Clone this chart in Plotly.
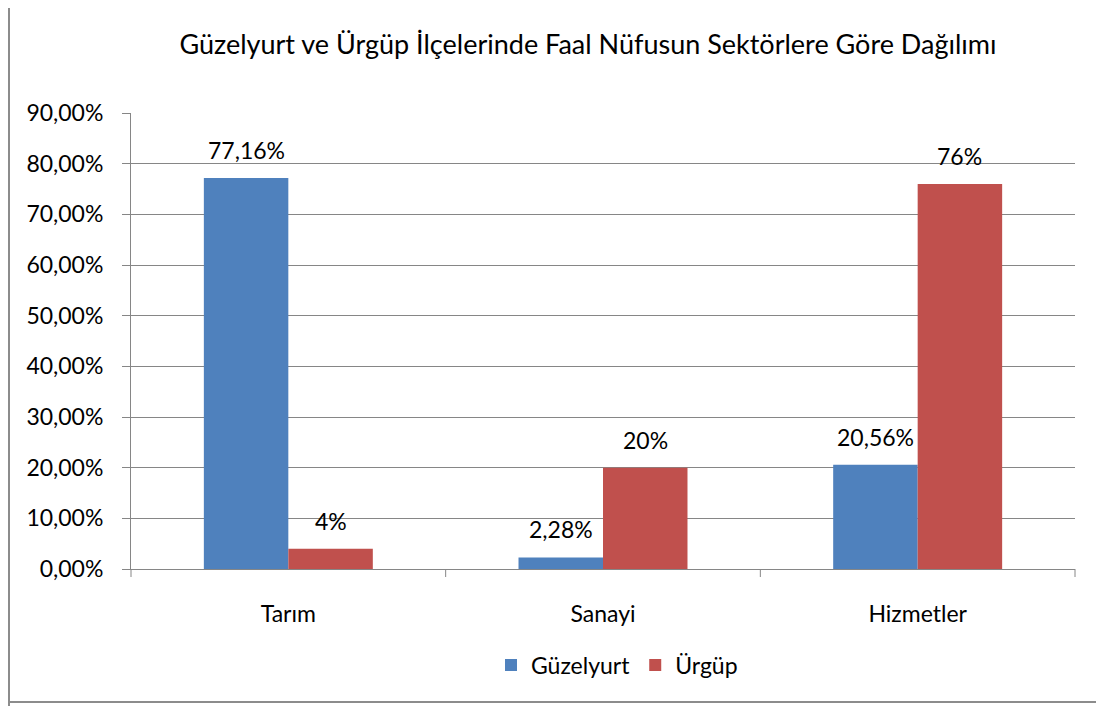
import plotly.graph_objects as go

categories = ["Tarım", "Sanayi", "Hizmetler"]
guzelyurt = [77.16, 2.28, 20.56]
urgup = [4, 20, 76]
guzelyurt_labels = ["77,16%", "2,28%", "20,56%"]
urgup_labels = ["4%", "20%", "76%"]
tick_vals = [0, 10, 20, 30, 40, 50, 60, 70, 80, 90]
tick_text = ["0,00%", "10,00%", "20,00%", "30,00%", "40,00%", "50,00%", "60,00%", "70,00%", "80,00%", "90,00%"]

# page is rendered with an 8px body margin, so figure coords = page coords - 8
OFF = 8
W, H = 1104, 706
ML = 131 - OFF
MT = 113 - OFF
MR = W - (1075 - OFF)
MB = H - (569 - OFF)
PW, PH = W - ML - MR, H - MT - MB
FONT = "Lato, 'Open Sans', sans-serif"
FS = 23
BARGAP = 0.463

fig = go.Figure()
fig.add_trace(go.Bar(name="Güzelyurt", x=categories, y=guzelyurt,
                     marker_color="#4F81BD", marker_line_width=0))
fig.add_trace(go.Bar(name="Ürgüp", x=categories, y=urgup,
                     marker_color="#C0504D", marker_line_width=0))

half = (1 - BARGAP) / 4
annotations = []
for i in range(len(categories)):
    for vals, labs, sgn in ((guzelyurt, guzelyurt_labels, -1), (urgup, urgup_labels, 1)):
        annotations.append(dict(x=i + sgn * half, y=vals[i], xref="x", yref="y", text=labs[i],
                                showarrow=False, yanchor="bottom", xanchor="center", yshift=12,
                                font=dict(size=FS, family=FONT, color="#000")))

def fx(p):  # figure px -> paper x
    return (p - ML) / PW

def fy(p):  # figure px -> paper y
    return (H - MB - p) / PH

line_style = dict(color="#8c8c8c", width=2)
shapes = [
    dict(type="line", xref="paper", yref="paper", x0=fx(1), x1=fx(1), y0=fy(-10), y1=fy(700), line=line_style),
    dict(type="line", xref="paper", yref="paper", x0=fx(1100 - OFF), x1=fx(1100 - OFF), y0=fy(-10), y1=fy(702 - OFF), line=line_style),
    dict(type="line", xref="paper", yref="paper", x0=fx(0), x1=fx(1100 - OFF), y0=fy(702 - OFF), y1=fy(702 - OFF), line=line_style),
]
for i in range(4):
    xp = ML + i * PW / 3
    shapes.append(dict(type="line", xref="paper", yref="paper", x0=fx(xp), x1=fx(xp),
                       y0=0, y1=fy(H - MB + 8), line=dict(color="#868686", width=1)))

fig.update_layout(
    width=W, height=H,
    margin=dict(l=ML, r=MR, t=MT, b=MB, autoexpand=False),
    paper_bgcolor="white", plot_bgcolor="white",
    barmode="group", bargap=BARGAP, bargroupgap=0,
    font=dict(family=FONT, size=FS, color="#000"),
    title=dict(text="Güzelyurt ve Ürgüp İlçelerinde Faal Nüfusun Sektörlere Göre Dağılımı",
               xref="container", x=(588 - OFF) / W, xanchor="center",
               yref="container", y=1 - (45 - OFF) / H, yanchor="middle",
               font=dict(size=27, family=FONT, color="#000")),
    xaxis=dict(showgrid=False, showline=True, linecolor="#868686", linewidth=1,
               ticks="", tickfont=dict(size=FS), ticklabelstandoff=24),
    yaxis=dict(range=[0, 90], tickvals=tick_vals, ticktext=tick_text, showgrid=True,
               gridcolor="#868686", gridwidth=1, showline=True, linecolor="#868686", linewidth=1,
               ticks="outside", ticklen=8, tickcolor="#868686", tickfont=dict(size=FS),
               ticklabelstandoff=14, zeroline=False),
    legend=dict(orientation="h", x=fx(617 - OFF), xanchor="center", y=fy(665 - OFF), yanchor="middle",
                font=dict(size=FS), itemwidth=30, traceorder="normal"),
    shapes=shapes,
    annotations=annotations,
)

fig.write_html("out.html")
